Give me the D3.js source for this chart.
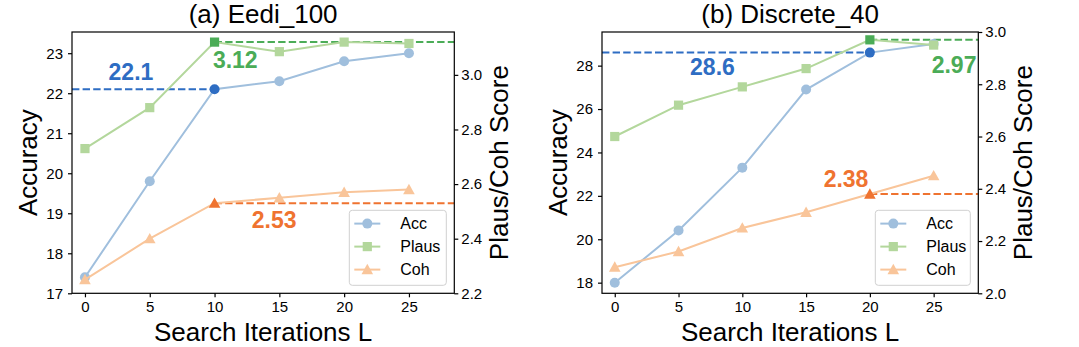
<!DOCTYPE html>
<html>
<head>
<meta charset="utf-8">
<script src="https://cdn.jsdelivr.net/npm/d3@7"></script>
<style>
  body { margin: 0; background: #fff; }
  svg { display: block; font-family: "Liberation Sans", Arial, sans-serif; }
</style>
</head>
<body>
<script>
// x values (search iterations)
const iters = [0, 5, 10, 15, 20, 25];

// (a) Eedi_100
const eediAcc   = [17.4, 19.8, 22.1, 22.3, 22.8, 23.0];
const eediPlaus = [2.73, 2.88, 3.12, 3.085, 3.12, 3.115];
const eediCoh   = [2.25, 2.40, 2.53, 2.55, 2.57, 2.58];

// (b) Discrete_40
const discAcc   = [18.0, 20.4, 23.3, 26.9, 28.6, 29.0];
const discPlaus = [2.60, 2.72, 2.79, 2.86, 2.97, 2.95];
const discCoh   = [2.10, 2.16, 2.25, 2.31, 2.38, 2.45];

// tick labels
const xTicks = [0, 5, 10, 15, 20, 25];
const eediAccTicks = [17, 18, 19, 20, 21, 22, 23];
const eediScoreTicks = [2.2, 2.4, 2.6, 2.8, 3.0];
const discAccTicks = [18, 20, 22, 24, 26, 28];
const discScoreTicks = [2.0, 2.2, 2.4, 2.6, 2.8, 3.0];

const seriesNames = ["Acc", "Plaus", "Coh"];

const light = { Acc: "#a0bfdd", Plaus: "#b3d79c", Coh: "#f9c59a" };
const dark  = { Acc: "#2e6dc3", Plaus: "#4bac57", Coh: "#ef7330" };

const W = 1079, H = 347;
const svg = d3.select("body").append("svg").attr("width", W).attr("height", H);

function drawPanel(cfg) {
  const g = svg.append("g");
  const x = d3.scaleLinear().domain([-1, 28.5]).range([cfg.left, cfg.right]);
  const yL = d3.scaleLinear().domain(cfg.accDomain).range([cfg.bottom, cfg.top]);
  const yR = d3.scaleLinear().domain(cfg.scoreDomain).range([cfg.bottom, cfg.top]);

  const clipId = "clip" + cfg.id;
  svg.append("clipPath").attr("id", clipId).append("rect")
    .attr("x", cfg.left).attr("y", cfg.top)
    .attr("width", cfg.right - cfg.left).attr("height", cfg.bottom - cfg.top);

  const plot = g.append("g").attr("clip-path", `url(#${clipId})`);

  // dashed reference lines
  const hi = cfg.best; // index of highlighted point
  const bx = x(iters[hi]);
  plot.append("line")
    .attr("x1", cfg.left).attr("x2", bx)
    .attr("y1", yL(cfg.acc[hi])).attr("y2", yL(cfg.acc[hi]))
    .attr("stroke", dark.Acc).attr("stroke-width", 2).attr("stroke-dasharray", "7.4,3.2");
  plot.append("line")
    .attr("x1", bx).attr("x2", cfg.right)
    .attr("y1", yR(cfg.plaus[hi])).attr("y2", yR(cfg.plaus[hi]))
    .attr("stroke", dark.Plaus).attr("stroke-width", 2).attr("stroke-dasharray", "7.4,3.2");
  plot.append("line")
    .attr("x1", bx).attr("x2", cfg.right)
    .attr("y1", yR(cfg.coh[hi])).attr("y2", yR(cfg.coh[hi]))
    .attr("stroke", dark.Coh).attr("stroke-width", 2).attr("stroke-dasharray", "7.4,3.2");

  const series = [
    { name: "Acc", vals: cfg.acc, y: yL },
    { name: "Plaus", vals: cfg.plaus, y: yR },
    { name: "Coh", vals: cfg.coh, y: yR }
  ];

  series.forEach(s => {
    const line = d3.line().x((d, i) => x(iters[i])).y(d => s.y(d));
    plot.append("path").datum(s.vals)
      .attr("d", line).attr("fill", "none")
      .attr("stroke", light[s.name]).attr("stroke-width", 2);
    s.vals.forEach((v, i) => {
      const col = i === hi ? dark[s.name] : light[s.name];
      drawMarker(plot, s.name, x(iters[i]), s.y(v), col);
    });
  });

  // value annotations
  cfg.notes.forEach(n => {
    const yy = n.axis === "acc" ? yL(n.y) : yR(n.y);
    plot.append("text")
      .attr("x", x(n.x)).attr("y", yy)
      .attr("text-anchor", "middle")
      .attr("font-size", 23).attr("font-weight", "bold")
      .attr("fill", dark[n.series])
      .text(n.label);
  });

  // frame
  g.append("rect")
    .attr("x", cfg.left).attr("y", cfg.top)
    .attr("width", cfg.right - cfg.left).attr("height", cfg.bottom - cfg.top)
    .attr("fill", "none").attr("stroke", "#000").attr("stroke-width", 1.2);

  // axes
  const ax = g.append("g").attr("transform", `translate(0,${cfg.bottom})`)
    .call(d3.axisBottom(x).tickValues(xTicks).tickSize(4).tickPadding(4).tickFormat(d3.format("d")));
  const al = g.append("g").attr("transform", `translate(${cfg.left},0)`)
    .call(d3.axisLeft(yL).tickValues(cfg.accTicks).tickSize(4).tickPadding(5).tickFormat(d3.format("d")));
  const ar = g.append("g").attr("transform", `translate(${cfg.right},0)`)
    .call(d3.axisRight(yR).tickValues(cfg.scoreTicks).tickSize(4).tickPadding(3).tickFormat(d3.format(".1f")));
  [ax, al, ar].forEach(a => {
    a.select(".domain").remove();
    a.selectAll("line").attr("stroke", "#000").attr("stroke-width", 1.2);
    a.selectAll("text").attr("font-size", 15).attr("fill", "#000")
      .attr("font-family", "Liberation Sans, Arial, sans-serif");
  });

  const cx = (cfg.left + cfg.right) / 2;
  const cy = (cfg.top + cfg.bottom) / 2;

  g.append("text").attr("x", cx).attr("y", 23)
    .attr("text-anchor", "middle").attr("font-size", 26).text(cfg.title);
  g.append("text").attr("x", cx).attr("y", 341)
    .attr("text-anchor", "middle").attr("font-size", 26).text("Search Iterations L");
  g.append("text").attr("transform", `translate(${cfg.left - 35.5},${cy}) rotate(-90)`)
    .attr("text-anchor", "middle").attr("font-size", 26).text("Accuracy");
  g.append("text").attr("transform", `translate(${cfg.right + 54},${cy}) rotate(-90)`)
    .attr("text-anchor", "middle").attr("font-size", 26).text("Plaus/Coh Score");

  // legend
  const lw = cfg.legendW, lh = 75;
  const lx = cfg.right - 8 - lw, ly = cfg.bottom - 8 - lh;
  const leg = g.append("g");
  leg.append("rect").attr("x", lx).attr("y", ly).attr("width", lw).attr("height", lh)
    .attr("rx", 3).attr("fill", "#fff").attr("fill-opacity", 0.8)
    .attr("stroke", "#d0d0d0").attr("stroke-width", 1);
  seriesNames.forEach((name, i) => {
    const yy = ly + 13.3 + i * 23;
    leg.append("line").attr("x1", lx + 5).attr("x2", lx + 31)
      .attr("y1", yy).attr("y2", yy).attr("stroke", light[name]).attr("stroke-width", 2);
    drawMarker(leg, name, lx + 18, yy, light[name]);
    leg.append("text").attr("x", lx + 51).attr("y", yy).attr("dy", "0.35em")
      .attr("font-size", 16).text(name);
  });
}

function drawMarker(parent, name, px, py, col) {
  if (name === "Acc") {
    parent.append("circle").attr("cx", px).attr("cy", py).attr("r", 5).attr("fill", col);
  } else if (name === "Plaus") {
    parent.append("rect").attr("x", px - 4.6).attr("y", py - 4.6)
      .attr("width", 9.2).attr("height", 9.2).attr("fill", col);
  } else {
    const s = 5.8;
    parent.append("path")
      .attr("d", `M${px},${py - s}L${px + s},${py + s * 0.8}L${px - s},${py + s * 0.8}Z`)
      .attr("fill", col);
  }
}

drawPanel({
  id: "a", title: "(a) Eedi_100",
  left: 72, right: 454.3, top: 32, bottom: 293.3,
  accDomain: [17, 23.53], scoreDomain: [2.2, 3.157],
  accTicks: eediAccTicks, scoreTicks: eediScoreTicks,
  acc: eediAcc, plaus: eediPlaus, coh: eediCoh, best: 2,
  legendW: 97,
  notes: [
    { label: "22.1", series: "Acc", axis: "acc", x: 3.55, y: 22.33 },
    { label: "3.12", series: "Plaus", axis: "score", x: 11.6, y: 3.024 },
    { label: "2.53", series: "Coh", axis: "score", x: 14.6, y: 2.44 }
  ]
});

drawPanel({
  id: "b", title: "(b) Discrete_40",
  left: 602, right: 978.3, top: 32, bottom: 293.3,
  accDomain: [17.51, 29.55], scoreDomain: [2.0, 3.0],
  accTicks: discAccTicks, scoreTicks: discScoreTicks,
  acc: discAcc, plaus: discPlaus, coh: discCoh, best: 4,
  legendW: 95,
  notes: [
    { label: "28.6", series: "Acc", axis: "acc", x: 7.66, y: 27.57 },
    { label: "2.97", series: "Plaus", axis: "score", x: 26.6, y: 2.842 },
    { label: "2.38", series: "Coh", axis: "score", x: 18.13, y: 2.406 }
  ]
});
</script>
</body>
</html>
